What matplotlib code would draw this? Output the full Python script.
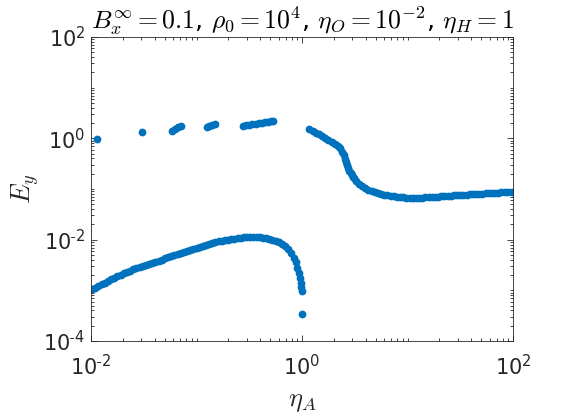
import numpy as np
import matplotlib
matplotlib.use("Agg")
import matplotlib.pyplot as plt
from matplotlib.ticker import FixedLocator, FuncFormatter

plt.rcParams['mathtext.fontset'] = 'cm'
plt.rcParams['font.family'] = ['DejaVu Sans']

# ---- data (log10 values) ----
# upper branch, eta_A < 1 (sparse clusters)
up_left_logx = [-1.94, -1.514, -1.235, -1.205, -1.175, -1.145,
                -0.903, -0.878, -0.852, -0.825,
                -0.556, -0.53, -0.50, -0.47, -0.44, -0.41, -0.38, -0.35, -0.32, -0.295, -0.272]
up_left_logy = [-0.018, 0.12, 0.152, 0.185, 0.215, 0.245,
                0.225, 0.245, 0.265, 0.284,
                0.245, 0.255, 0.265, 0.275, 0.285, 0.295, 0.305, 0.315, 0.325, 0.335, 0.343]

# upper branch, eta_A > 1
up_right_logx = [0.07, 0.10, 0.13, 0.16, 0.19, 0.22, 0.25, 0.28, 0.31, 0.34, 0.36, 0.38,
                 0.395, 0.41, 0.42, 0.43, 0.44, 0.45, 0.46, 0.47, 0.48, 0.49, 0.51,
                 0.54, 0.57, 0.60, 0.63, 0.66, 0.69, 0.72, 0.75, 0.78, 0.81, 0.84,
                 0.87, 0.90, 0.93, 0.96, 0.99, 1.02, 1.05, 1.08, 1.11, 1.14, 1.17,
                 1.20, 1.23, 1.26, 1.29, 1.32, 1.35, 1.38, 1.41, 1.44, 1.47, 1.50,
                 1.53, 1.56, 1.59, 1.62, 1.65, 1.68, 1.71, 1.74, 1.77, 1.80, 1.83,
                 1.86, 1.89, 1.92, 1.95, 1.99]
up_right_logy = [0.185, 0.15, 0.115, 0.08, 0.045, 0.01, -0.03, -0.07, -0.11, -0.155, -0.2, -0.26,
                 -0.33, -0.41, -0.47, -0.53, -0.59, -0.64, -0.69, -0.73, -0.765, -0.79, -0.84,
                 -0.90, -0.95, -0.99, -1.02, -1.045, -1.065, -1.085, -1.10, -1.115, -1.125, -1.135,
                 -1.145, -1.15, -1.16, -1.165, -1.17, -1.17, -1.17, -1.17, -1.17, -1.17, -1.165,
                 -1.165, -1.16, -1.155, -1.15, -1.145, -1.14, -1.135, -1.13, -1.125, -1.12, -1.118,
                 -1.114, -1.11, -1.107, -1.103, -1.10, -1.096, -1.092, -1.088, -1.084, -1.08, -1.076,
                 -1.072, -1.066, -1.06, -1.055, -1.05]

# lower branch, eta_A < 1
low_logx = [-1.99, -1.96, -1.93, -1.90, -1.87, -1.84, -1.81, -1.78, -1.75, -1.72, -1.69,
            -1.66, -1.63, -1.60, -1.57, -1.54, -1.51, -1.48, -1.45, -1.42, -1.39, -1.36,
            -1.33, -1.30, -1.27, -1.24, -1.21, -1.18, -1.15, -1.12, -1.09, -1.06, -1.03,
            -1.00, -0.97, -0.94, -0.91, -0.88, -0.85, -0.82, -0.79, -0.76, -0.73, -0.70,
            -0.67, -0.64, -0.61, -0.58, -0.55, -0.52, -0.49, -0.46, -0.43, -0.40, -0.37,
            -0.34, -0.31, -0.28, -0.25, -0.22, -0.19, -0.16, -0.13, -0.10, -0.08, -0.06,
            -0.045, -0.03, -0.02, -0.012, -0.006, -0.002, 0.0]
low_logy = [-2.98, -2.95, -2.92, -2.88, -2.85, -2.82, -2.78, -2.75, -2.72, -2.69, -2.66,
            -2.63, -2.61, -2.58, -2.56, -2.54, -2.52, -2.50, -2.48, -2.46, -2.44, -2.42,
            -2.40, -2.37, -2.35, -2.33, -2.31, -2.28, -2.26, -2.24, -2.22, -2.20, -2.18,
            -2.16, -2.14, -2.12, -2.10, -2.08, -2.06, -2.05, -2.03, -2.02, -2.01, -2.00,
            -1.99, -1.98, -1.97, -1.96, -1.955, -1.95, -1.95, -1.945, -1.95, -1.95, -1.96,
            -1.97, -1.98, -2.00, -2.02, -2.05, -2.08, -2.13, -2.19, -2.27, -2.36, -2.45,
            -2.55, -2.66, -2.75, -2.86, -2.93, -3.02, -3.47]

x_ticks = [1e-2, 1e0, 1e2]
y_ticks = [1e-4, 1e-2, 1e0, 1e2]

title = r'$B_x^\infty = 0.1$, $\rho_0 = 10^4$, $\eta_O = 10^{-2}$, $\eta_H = 1$'
xlabel = r'$\eta_A$'
ylabel = r'$E_y$'

blue = '#0072BD'
dark = '#262626'

fig = plt.figure(figsize=(5.68, 4.16), dpi=100)
ax = fig.add_axes([91/568, 75/416, 422/568, 304/416])

for lx, ly in [(up_left_logx, up_left_logy), (up_right_logx, up_right_logy), (low_logx, low_logy)]:
    ax.plot(10**np.array(lx), 10**np.array(ly), 'o', color=blue, markersize=5.6,
            markeredgewidth=0, linestyle='none')

ax.set_xscale('log')
ax.set_yscale('log')
ax.set_xlim(1e-2, 1e2)
ax.set_ylim(1e-4, 1e2)

def minors(lo, hi, majors):
    out = []
    for e in range(lo, hi):
        for m in range(1, 10):
            v = m * 10.0**e
            if not any(np.isclose(v, M) for M in majors):
                out.append(v)
    return out

ax.xaxis.set_major_locator(FixedLocator(x_ticks))
ax.yaxis.set_major_locator(FixedLocator(y_ticks))
ax.xaxis.set_minor_locator(FixedLocator(minors(-2, 2, x_ticks)))
ax.yaxis.set_minor_locator(FixedLocator(minors(-4, 2, y_ticks)))

def fmt(v, pos):
    e = int(round(np.log10(v)))
    if e < 0:
        return r'$\mathregular{10^{\text{-}%d}}$' % (-e)
    return r'$\mathregular{10^{%d}}$' % e

ax.xaxis.set_major_formatter(FuncFormatter(fmt))
ax.yaxis.set_major_formatter(FuncFormatter(fmt))
ax.xaxis.set_minor_formatter(FuncFormatter(lambda v, p: ''))
ax.yaxis.set_minor_formatter(FuncFormatter(lambda v, p: ''))

ax.tick_params(which='both', direction='in', top=True, right=True, colors=dark,
               labelsize=15, width=0.6)
ax.tick_params(which='major', length=4)
ax.tick_params(which='minor', length=2.5)
ax.tick_params(axis='x', pad=9)
ax.tick_params(axis='y', pad=4)
for s in ax.spines.values():
    s.set_color(dark)
    s.set_linewidth(0.6)

ax.set_title(title, fontsize=18.5, color='black', pad=5)
ax.set_xlabel(xlabel, fontsize=19, color=dark, labelpad=7)
ax.set_ylabel(ylabel, fontsize=19, color=dark, labelpad=2)

fig.savefig('out.png', dpi=100)
